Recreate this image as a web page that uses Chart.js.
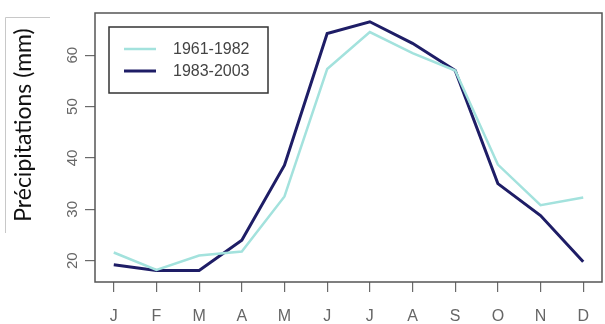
<!DOCTYPE html>
<html>
<head>
<meta charset="utf-8">
<script src="https://cdn.jsdelivr.net/npm/chart.js@4"></script>
<style>
  html, body { margin: 0; padding: 0; background: #fff; }
  #wrap { position: relative; width: 605px; height: 324px; }
  canvas { display: block; }
</style>
</head>
<body>
<div id="wrap"><canvas id="c" width="605" height="324"></canvas></div>
<script>
// Monthly precipitation (mm), two reference periods
const months = ['J', 'F', 'M', 'A', 'M', 'J', 'J', 'A', 'S', 'O', 'N', 'D'];
const period1Label = '1961-1982';
const period1 = [21.6, 18.2, 21.0, 21.8, 32.5, 57.3, 64.5, 60.4, 57.0, 38.7, 30.8, 32.3];
const period2Label = '1983-2003';
const period2 = [19.2, 18.1, 18.1, 24.0, 38.6, 64.2, 66.5, 62.3, 57.0, 35.0, 28.8, 19.8];
const yTicks = [20, 30, 40, 50, 60];
const yTitle = 'Précipitations (mm)';

const lightColor = '#a3e2dd';
const darkColor = '#1e1d66';
const axisGrey = '#6a6a6a';

const toPoints = arr => arr.map((v, i) => ({ x: i + 1, y: v }));

// Frame around the plotting region, legend box and the boxed axis title
const decorations = {
  id: 'decorations',
  afterDraw(chart) {
    const { ctx, chartArea: a } = chart;
    ctx.save();
    // plot frame
    ctx.strokeStyle = '#555';
    ctx.lineWidth = 1.5;
    ctx.strokeRect(a.left, a.top, a.right - a.left, a.bottom - a.top);

    // legend
    const lx = a.left + 14, ly = a.top + 14, lw = 159, lh = 66;
    ctx.fillStyle = '#fff';
    ctx.fillRect(lx, ly, lw, lh);
    ctx.strokeStyle = '#333';
    ctx.lineWidth = 1.5;
    ctx.strokeRect(lx, ly, lw, lh);
    const entries = chart.data.datasets;
    entries.forEach((ds, i) => {
      const yy = ly + 22 + i * 22;
      ctx.strokeStyle = ds.borderColor;
      ctx.lineWidth = ds.borderWidth;
      ctx.beginPath();
      ctx.moveTo(lx + 15, yy);
      ctx.lineTo(lx + 47, yy);
      ctx.stroke();
      ctx.fillStyle = '#444';
      ctx.font = '16px "Liberation Sans", Arial, sans-serif';
      ctx.textAlign = 'left';
      ctx.textBaseline = 'middle';
      ctx.fillText(ds.label, lx + 64, yy + 1);
    });

    // boxed y-axis title
    ctx.fillStyle = '#fff';
    ctx.fillRect(5, 17, 45, 216);
    ctx.strokeStyle = '#c8c8c8';
    ctx.lineWidth = 1;
    ctx.beginPath();
    ctx.moveTo(5.5, 233);
    ctx.lineTo(5.5, 17.5);
    ctx.lineTo(50, 17.5);
    ctx.stroke();
    ctx.translate(24, 125);
    ctx.rotate(-Math.PI / 2);
    ctx.fillStyle = '#111';
    ctx.font = '23px Lato, "Open Sans", sans-serif';
    ctx.textAlign = 'center';
    ctx.textBaseline = 'middle';
    ctx.fillText(yTitle, 0, 0);
    ctx.restore();
  }
};

new Chart(document.getElementById('c'), {
  type: 'line',
  data: {
    datasets: [
      {
        label: period1Label,
        data: toPoints(period1),
        borderColor: lightColor,
        borderWidth: 2.5,
        pointRadius: 0,
        tension: 0,
        fill: false
      },
      {
        label: period2Label,
        data: toPoints(period2),
        borderColor: darkColor,
        borderWidth: 3,
        pointRadius: 0,
        tension: 0,
        fill: false
      }
    ]
  },
  options: {
    responsive: false,
    animation: false,
    devicePixelRatio: 1,
    layout: { padding: { top: 13, right: 3, left: 0, bottom: 0 } },
    plugins: { legend: { display: false }, tooltip: { enabled: false } },
    scales: {
      x: {
        type: 'linear',
        min: 0.56,
        max: 12.44,
        afterBuildTicks: s => { s.ticks = months.map((m, i) => ({ value: i + 1 })); },
        afterFit: s => { s.height = 42; },
        border: { display: false },
        grid: { drawOnChartArea: false, drawTicks: true, tickLength: 10, color: axisGrey, lineWidth: 1.2 },
        ticks: {
          autoSkip: false,
          maxRotation: 0,
          minRotation: 0,
          padding: 15,
          color: '#666',
          font: { family: '"Liberation Sans", Arial, sans-serif', size: 16 },
          callback: v => months[v - 1]
        }
      },
      y: {
        type: 'linear',
        min: 15.86,
        max: 68.2,
        afterBuildTicks: s => { s.ticks = yTicks.map(v => ({ value: v })); },
        afterFit: s => { s.width = 95; },
        border: { display: false },
        grid: { drawOnChartArea: false, drawTicks: true, tickLength: 10, color: axisGrey, lineWidth: 1.2 },
        ticks: {
          minRotation: 90,
          maxRotation: 90,
          crossAlign: 'center',
          padding: 4,
          color: '#666',
          font: { family: '"Liberation Sans", Arial, sans-serif', size: 15 }
        }
      }
    }
  },
  plugins: [decorations]
});
</script>
</body>
</html>
